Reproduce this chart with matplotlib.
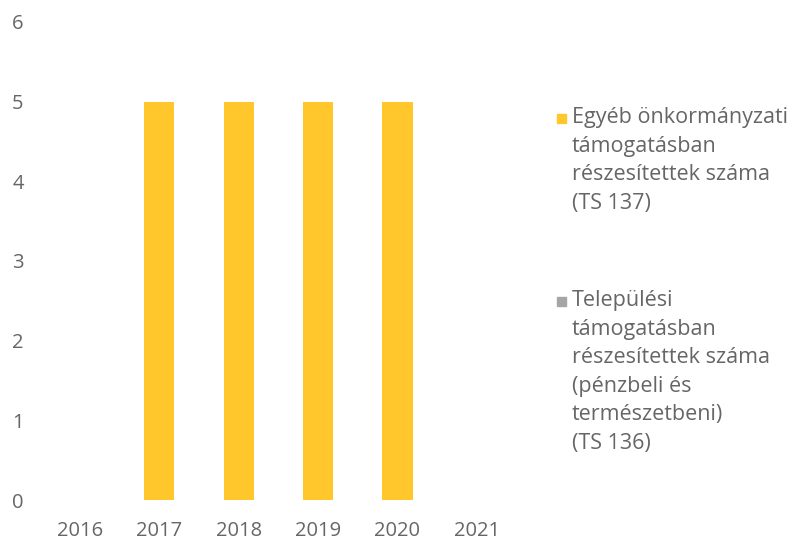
import matplotlib
matplotlib.use("Agg")
import matplotlib.pyplot as plt
from matplotlib.patches import Rectangle

years = ["2016", "2017", "2018", "2019", "2020", "2021"]
ts137 = [0, 5, 5, 5, 5, 0]   # Egyéb önkormányzati támogatásban részesítettek száma
ts136 = [0, 0, 0, 0, 0, 0]   # Települési támogatásban részesítettek száma
yticks = [0, 1, 2, 3, 4, 5, 6]

label137 = "Egyéb önkormányzati\ntámogatásban\nrészesítettek száma\n(TS 137)"
label136 = "Települési\ntámogatásban\nrészesítettek száma\n(pénzbeli és\ntermészetbeni)\n(TS 136)"

yellow = "#FFC72C"
grey = "#A5A5A5"
txt = "#666666"

plt.rcParams["font.family"] = ["Open Sans", "DejaVu Sans"]

fig = plt.figure(figsize=(7.91, 5.46), dpi=100)
ax = fig.add_axes([0.051, 0.084, 0.602, 0.876])

x = list(range(len(years)))
ax.bar(x, ts137, width=0.38, color=yellow)
ax.bar(x, ts136, width=0.38, bottom=ts137, color=grey)

ax.set_xlim(-0.5, len(years) - 0.5)
ax.set_ylim(0, 6)
ax.set_xticks(x)
ax.set_xticklabels(years)
ax.set_yticks(yticks)
ax.tick_params(axis="both", length=0, labelsize=14.5, colors=txt)
ax.tick_params(axis="y", pad=12)
ax.tick_params(axis="x", pad=15)
for s in ax.spines.values():
    s.set_visible(False)

# legend (manual)
fs = 15.5
W, H = 791, 546
entries = [(label137, yellow, 107), (label136, grey, 290)]
for lab, col, ytop in entries:
    fig.text(572 / W, 1 - ytop / H, lab, ha="left", va="top", fontsize=fs,
             color=txt, linespacing=1.47)
    fig.patches.append(Rectangle((557 / W, 1 - (ytop + 16) / H), 9 / W, 9 / H,
                                 transform=fig.transFigure, color=col))

fig.savefig("out.png", dpi=100)
